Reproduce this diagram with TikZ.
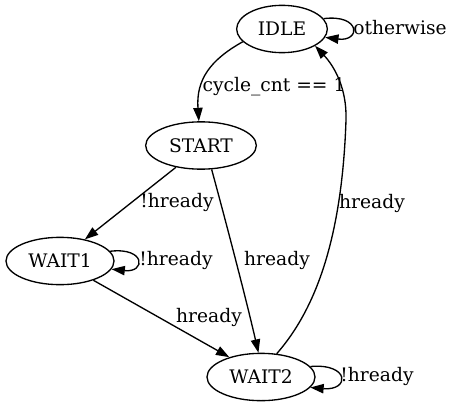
\documentclass[tikz,border=0pt]{standalone}
\usepackage{fontspec}
\setmainfont{DejaVu Serif}
\usetikzlibrary{shapes.geometric,arrows.meta}
\tikzset{
  stnode/.style={draw, ellipse, line width=1pt, inner sep=0pt, minimum height=35.5pt},
  edgeline/.style={line width=1pt, -{Triangle[length=10pt,width=7pt]}},
  elabel/.style={inner sep=0pt}
}
\begin{document}
\begin{tikzpicture}[x=0.75pt,y=-0.75pt,font=\fontsize{14}{16}\selectfont]
\useasboundingbox (0,0) rectangle (453,407);

% States
\node[stnode, minimum width=68pt] (idle)  at (282,29)    {IDLE};
\node[stnode, minimum width=83pt] (start) at (201,145.5) {START};
\node[stnode, minimum width=81pt] (wait1) at (60,261)    {WAIT1};
\node[stnode, minimum width=81pt] (wait2) at (261,377)   {WAIT2};

% Transitions
\draw[edgeline] (idle.198) .. controls (210,60) and (196,80) .. (start.95);
\draw[edgeline] (start.-139) -- (wait1.41);
\draw[edgeline] (start.-66) .. controls (220,200) and (244,290) .. (wait2.96);
\draw[edgeline] (wait1.-30) -- (wait2.148);
\draw[edgeline] (wait2.56) .. controls (315,310) and (342,240) .. (346,120)
  .. controls (347,88) and (334,66) .. (idle.-27);

% Self loops
\draw[edgeline] (idle.14) .. controls (361,14) and (361,42) .. (idle.-11);
\draw[edgeline] (wait1.11) .. controls (146,247) and (146,273) .. (wait1.-9);
\draw[edgeline] (wait2.12) .. controls (350,363) and (350,391) .. (wait2.-12);

% Labels
\foreach \n/\x/\y/\t in {lcyc/274/87/cycle\_cnt == 1, lother/400/28/otherwise,
    lsw/177/202/!hready, lsw2/277/260/hready, lwi/372/203/hready,
    lw1/176/260/!hready, lw12/209/317/hready, lw2/377/376/!hready}
    \node[elabel] (\n) at (\x,\y) {\t};
\end{tikzpicture}
\end{document}
